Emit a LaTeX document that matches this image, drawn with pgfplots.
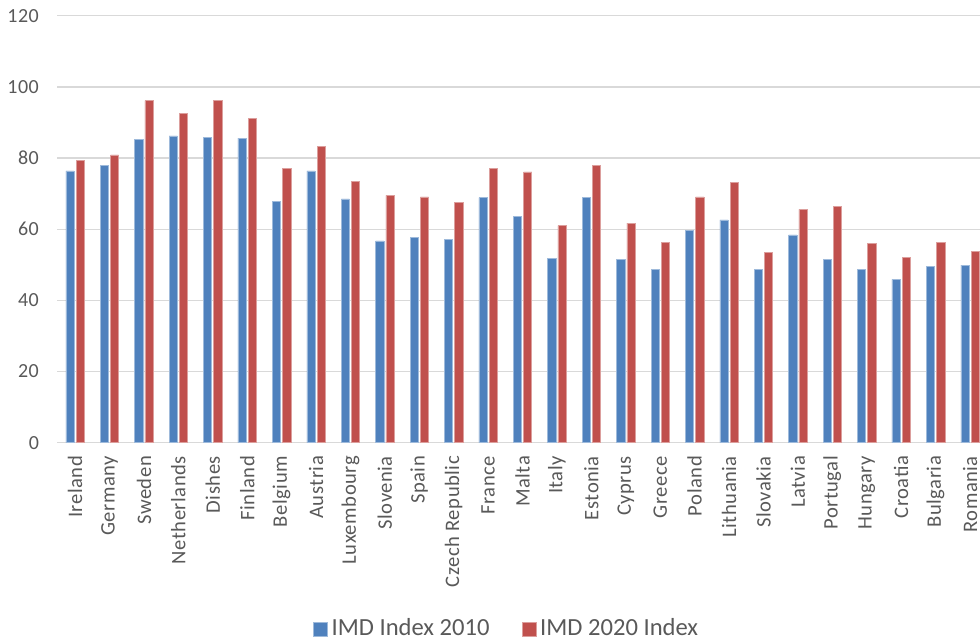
\documentclass[border=0pt]{standalone}
\usepackage{pgfplots}
\usepackage{pgfplotstable}
\pgfplotsset{compat=1.18}
\usepackage{fontspec}
\setmainfont{Carlito}
\newfontfamily\ticksfont[LetterSpace=2.5]{Carlito}

\definecolor{c2010}{HTML}{4F81BD}
\definecolor{c2020}{HTML}{C0504D}
\definecolor{gridgray}{HTML}{D9D9D9}
\definecolor{labelgray}{HTML}{595959}

% idx  2010  2020
\pgfplotstableread{
idx a    b
0   76.4 79.4
1   78.0 80.9
2   85.3 96.1
3   86.2 92.5
4   85.9 96.1
5   85.6 91.2
6   67.8 77.0
7   76.4 83.3
8   68.5 73.5
9   56.7 69.5
10  57.7 69.1
11  57.1 67.6
12  68.9 77.0
13  63.6 76.1
14  51.8 61.0
15  68.9 78.0
16  51.5 61.7
17  48.8 56.3
18  59.7 69.1
19  62.6 73.1
20  48.8 53.4
21  58.4 65.6
22  51.5 66.5
23  48.8 56.0
24  45.9 52.1
25  49.5 56.3
26  49.9 53.7
}\imddata

\begin{document}
\begin{tikzpicture}
\begin{axis}[
  scale only axis,
  width=461.35pt, height=213.5pt,
  xmin=-0.517, xmax=26.29,
  ymin=0, ymax=120,
  ytick={0,20,...,120},
  xtick={0,...,26},
  xticklabels={Ireland,Germany,Sweden,Netherlands,Dishes,Finland,Belgium,Austria,Luxembourg,Slovenia,Spain,Czech Republic,France,Malta,Italy,Estonia,Cyprus,Greece,Poland,Lithuania,Slovakia,Latvia,Portugal,Hungary,Croatia,Bulgaria,Romania},
  axis line style={draw=none},
  major tick length=0pt,
  ymajorgrids,
  grid style={gridgray, line width=0.7pt},
  /pgf/number format/assume math mode=true,
  yticklabel style={font=\ticksfont\fontsize{10}{12}\selectfont, text=labelgray, inner sep=0pt, anchor=east},
  yticklabel shift=9pt,
  xticklabel style={font=\ticksfont\fontsize{10.3}{12}\selectfont, text=labelgray, inner sep=0pt, rotate=90, anchor=east},
  xticklabel shift=6.5pt,
  ybar, bar width=4.1pt,
  legend columns=2,
  legend style={
    at={(0.488,-0.436)}, anchor=center, draw=none, fill=none,
    font=\fontsize{12.3}{14}\selectfont, text=labelgray,
    /tikz/every even column/.append style={column sep=14pt},
  },
  legend image code/.code={\path[#1] (0pt,-3.5pt) rectangle (7pt,3.5pt);},
]
\addplot[fill=c2010, draw=c2010!55!white, line width=0.3pt, bar shift=-2.55pt] table[x=idx, y=a] {\imddata};
\addlegendentry{IMD Index 2010}
\addplot[fill=c2020, draw=c2020!55!white, line width=0.3pt, bar shift=2.55pt] table[x=idx, y=b] {\imddata};
\addlegendentry{IMD 2020 Index}
\end{axis}
\pgfresetboundingbox
\useasboundingbox (-28.65pt,-100.15pt) rectangle (461.35pt,221.35pt);
\end{tikzpicture}
\end{document}
